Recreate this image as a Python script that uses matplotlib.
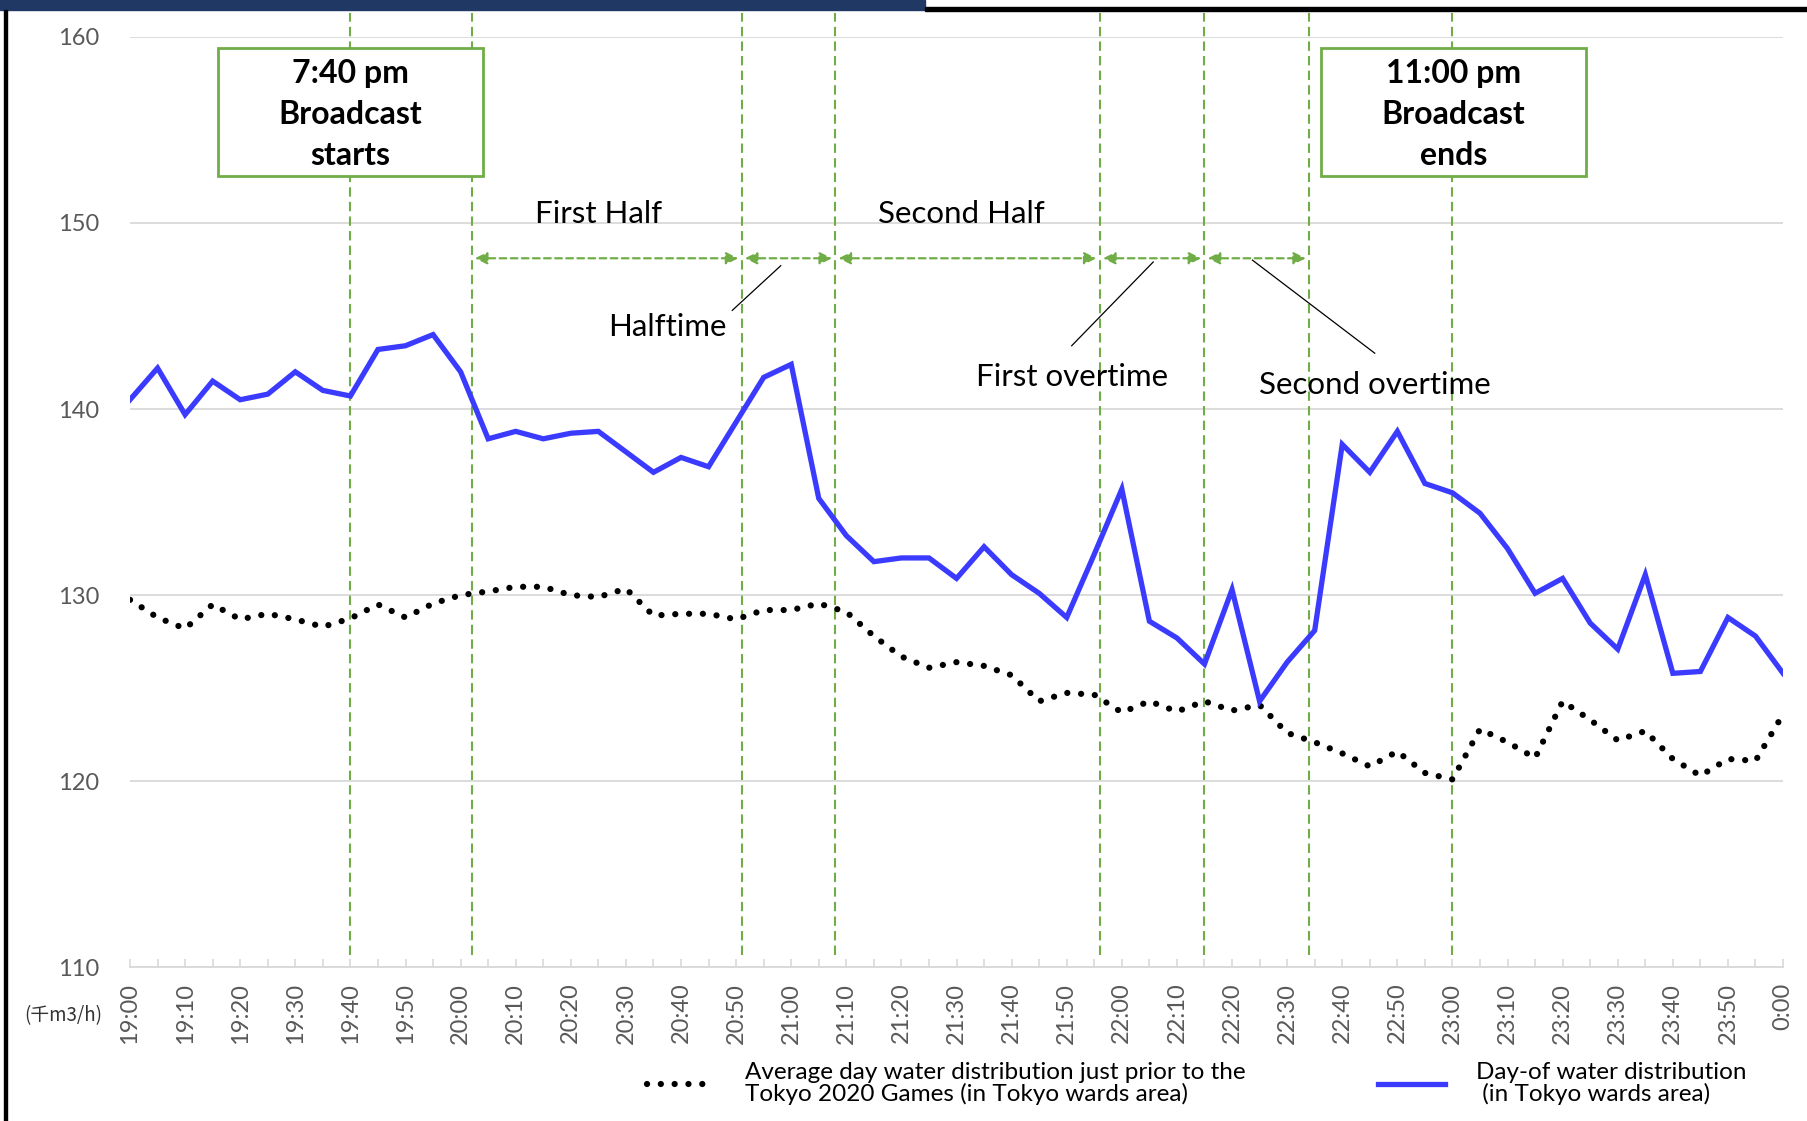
import numpy as np
import matplotlib
matplotlib.use("Agg")
import matplotlib.pyplot as plt
from matplotlib.patches import Rectangle

plt.rcParams['font.family'] = ['Lato', 'DejaVu Sans']

# 5-minute samples from 19:00 to 0:00 (thousand m3/h)
day_of = [140.5, 142.2, 139.7, 141.5, 140.5, 140.8, 142.0, 141.0, 140.7, 143.2,
          143.4, 144.0, 142.0, 138.4, 138.8, 138.4, 138.7, 138.8, 137.7, 136.6,
          137.4, 136.9, 139.3, 141.7, 142.4, 135.2, 133.2, 131.8, 132.0, 132.0,
          130.9, 132.6, 131.1, 130.1, 128.8, 132.2, 135.7, 128.6, 127.7, 126.3,
          130.3, 124.3, 126.4, 128.1, 138.1, 136.6, 138.8, 136.0, 135.5, 134.4,
          132.5, 130.1, 130.9, 128.5, 127.1, 131.1, 125.8, 125.9, 128.8, 127.8,
          125.8]
average = [129.75, 128.8, 128.2, 129.5, 128.7, 129.0, 128.7, 128.3, 128.75, 129.5,
           128.8, 129.55, 130.0, 130.2, 130.45, 130.45, 130.0, 129.9, 130.35, 128.9,
           129.0, 129.0, 128.7, 129.2, 129.2, 129.55, 129.1, 127.8, 126.7, 126.1,
           126.4, 126.2, 125.7, 124.3, 124.75, 124.65, 123.7, 124.3, 123.75, 124.3,
           123.8, 124.1, 122.6, 122.1, 121.5, 120.8, 121.6, 120.45, 120.1, 122.8,
           122.1, 121.25, 124.3, 123.3, 122.2, 122.7, 121.2, 120.3, 121.2, 121.1,
           123.6]
time_labels = ["19:00", "19:10", "19:20", "19:30", "19:40", "19:50",
               "20:00", "20:10", "20:20", "20:30", "20:40", "20:50",
               "21:00", "21:10", "21:20", "21:30", "21:40", "21:50",
               "22:00", "22:10", "22:20", "22:30", "22:40", "22:50",
               "23:00", "23:10", "23:20", "23:30", "23:40", "23:50", "0:00"]
# minutes after 19:00 of the match events
event_minutes = [40, 62, 111, 128, 176, 195, 214, 240]
period_names = ["First Half", "Second Half"]

minutes = np.arange(len(day_of)) * 5

green = "#70AD47"
grid = "#D9D9D9"
tick_grey = "#595959"

fig = plt.figure(figsize=(18.08, 11.21), dpi=100)
ax = fig.add_axes([0.0719, 0.137, 0.9143, 0.8302])

ax.plot(minutes, average, color="black", lw=4.5,
        linestyle=(0, (0.01, 2.2)), dash_capstyle="round",
        label="Average day water distribution just prior to the\nTokyo 2020 Games (in Tokyo wards area)",
        zorder=3)
ax.plot(minutes, day_of, color="#3B3BFF", lw=3.8, solid_joinstyle="miter",
        label="Day-of water distribution\n (in Tokyo wards area)", zorder=4)

# event lines
for m in event_minutes:
    ax.plot([m, m], [110.65, 161.3], color=green, lw=1.5,
            linestyle=(0, (4.5, 2.5)), clip_on=False, zorder=2)

# period arrows
arrow_spans = [(62, 111), (111, 128), (128, 176), (176, 195), (195, 214)]
for a, b in arrow_spans:
    ax.annotate("", xy=(b - 0.6, 148.1), xytext=(a + 0.6, 148.1),
                arrowprops=dict(arrowstyle="<|-|>", color=green, lw=1.6,
                                linestyle=(0, (3, 2)), mutation_scale=18,
                                shrinkA=0, shrinkB=0))

fs = 22.5
ax.text(85.0, 150.5, period_names[0], fontsize=fs, ha="center", va="center")
ax.text(150.8, 150.5, period_names[1], fontsize=fs, ha="center", va="center")
ax.text(97.6, 144.4, "Halftime", fontsize=fs, ha="center", va="center")
ax.text(170.9, 141.7, "First overtime", fontsize=fs, ha="center", va="center")
ax.text(225.9, 141.3, "Second overtime", fontsize=fs, ha="center", va="center")

# leader lines
ax.plot([109.3, 118.1], [145.3, 147.7], color="black", lw=0.9)
ax.plot([170.9, 185.7], [143.4, 147.9], color="black", lw=0.9)
ax.plot([225.9, 203.7], [143.0, 148.0], color="black", lw=0.9)

# broadcast boxes
for x0, txt in [(16.0, "7:40 pm\nBroadcast\nstarts"), (216.2, "11:00 pm\nBroadcast\nends")]:
    ax.add_patch(Rectangle((x0, 152.5), 48.0, 6.9, facecolor="white",
                           edgecolor=green, lw=2, zorder=5))
    ax.text(x0 + 24.0, 155.8, txt, fontsize=23, fontweight="bold",
            ha="center", va="center", linespacing=1.5, zorder=6)

ax.set_xlim(0, 300)
ax.set_ylim(110, 160)
ax.set_yticks(np.arange(110, 161, 10))
ax.set_xticks(np.arange(0, 301, 10))
ax.set_xticklabels(time_labels, rotation=90)
ax.set_xticks(np.arange(0, 301, 5), minor=True)
ax.tick_params(axis="x", which="both", direction="in", length=6, color=grid,
               width=1.2, labelsize=17, labelcolor=tick_grey, pad=11)
ax.tick_params(axis="y", length=0, labelsize=17, labelcolor=tick_grey, pad=22)
ax.grid(axis="y", color=grid, lw=1.3)
ax.set_axisbelow(True)
for s in ["top", "right", "left"]:
    ax.spines[s].set_visible(False)
ax.spines["bottom"].set_color(grid)
ax.spines["bottom"].set_linewidth(1.3)

fig.text(0.035, 0.094, "(千m3/h)", fontsize=13.5, color="#333333",
         family=["Noto Sans CJK JP", "DejaVu Sans"], ha="center", va="center")

ax.legend(loc="upper left", bbox_to_anchor=(0.3513, 0.0633),
          bbox_transform=fig.transFigure, ncol=2, frameon=False, fontsize=17.5,
          handlelength=2.75, handletextpad=1.28, columnspacing=5.43,
          borderpad=0, labelspacing=0)
for t in ax.get_legend().get_texts():
    t.set_linespacing(1.0)

# screenshot frame
fig.patches.append(Rectangle((0, 1 - 10 / 1121), 925 / 1808, 10 / 1121,
                             transform=fig.transFigure, color="#1F3864"))
fig.patches.append(Rectangle((925 / 1808, 1 - 11 / 1121), 1 - 925 / 1808, 4 / 1121,
                             transform=fig.transFigure, color="black"))
fig.patches.append(Rectangle((4 / 1808, 0), 3 / 1808, 1 - 10 / 1121,
                             transform=fig.transFigure, color="black"))

fig.savefig("out.png", dpi=100)
